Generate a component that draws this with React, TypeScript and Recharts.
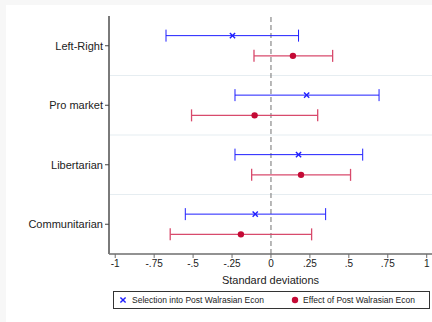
import React from 'react';
import {
  ScatterChart,
  Scatter,
  XAxis,
  YAxis,
  ErrorBar,
  ReferenceLine,
} from 'recharts';

const categories = ['Left-Right', 'Pro market', 'Libertarian', 'Communitarian'];

// Selection into Post Walrasian Econ
const selEst = [-0.247, 0.229, 0.177, -0.101];
const selLo = [-0.674, -0.231, -0.231, -0.55];
const selHi = [0.177, 0.694, 0.589, 0.351];

// Effect of Post Walrasian Econ
const effEst = [0.141, -0.105, 0.193, -0.193];
const effLo = [-0.109, -0.51, -0.124, -0.647];
const effHi = [0.396, 0.3, 0.511, 0.261];

const xTicks = [-1, -0.75, -0.5, -0.25, 0, 0.25, 0.5, 0.75, 1];

const SEL_NAME = 'Selection into Post Walrasian Econ';
const EFF_NAME = 'Effect of Post Walrasian Econ';

const BLUE = '#1f1fff';
const RED_DOT = '#c40a35';
const RED_LINE = '#d84a6c';

// vertical dodge of the two series inside each category band
const DODGE = 0.17;

const selData = categories.map((c, i) => ({
  cat: c,
  y: i + 0.5 - DODGE,
  x: selEst[i],
  err: [selEst[i] - selLo[i], selHi[i] - selEst[i]],
}));

const effData = categories.map((c, i) => ({
  cat: c,
  y: i + 0.5 + DODGE,
  x: effEst[i],
  err: [effEst[i] - effLo[i], effHi[i] - effEst[i]],
}));

const fmtX = (v: number) => {
  if (v === 0) return '0';
  const s = String(Math.abs(v)).replace(/^0/, '');
  return v < 0 ? '-' + s : s;
};

const XMark = (props: any) => {
  const { cx, cy } = props;
  const r = 2.6;
  return (
    <g stroke={BLUE} strokeWidth={1.4}>
      <line x1={cx - r} y1={cy - r} x2={cx + r} y2={cy + r} />
      <line x1={cx - r} y1={cy + r} x2={cx + r} y2={cy - r} />
    </g>
  );
};

const DotMark = (props: any) => {
  const { cx, cy } = props;
  return <circle cx={cx} cy={cy} r={3.2} fill={RED_DOT} />;
};

export default function App() {
  return (
    <div
      style={{
        position: 'absolute',
        left: 0,
        top: 0,
        width: 432,
        height: 322,
        background: '#f7f7f7',
        fontFamily: '"Liberation Sans", Arial, sans-serif',
        overflow: 'hidden',
      }}
    >
      <div
        style={{
          position: 'absolute',
          left: 6,
          top: 5,
          width: 426,
          height: 317,
          background: '#ffffff',
        }}
      />
      <div style={{ position: 'absolute', left: 0, top: 0 }}>
        <ScatterChart
          width={432}
          height={322}
          margin={{ top: 16, right: 0, bottom: 38, left: 0 }}
        >
          <XAxis
            type="number"
            dataKey="x"
            domain={[-1.04, 1.034]}
            allowDataOverflow
            ticks={xTicks}
            tickFormatter={fmtX}
            interval={0}
            height={30}
            tickSize={4}
            axisLine={{ stroke: '#6e6e6e', strokeWidth: 1.5 }}
            tickLine={{ stroke: '#6e6e6e' }}
            tick={{ fill: '#222', fontSize: 10 }}
            label={{
              value: 'Standard deviations',
              position: 'insideBottom',
              offset: 0,
              fill: '#222',
              fontSize: 11,
            }}
          />
          <YAxis
            type="number"
            dataKey="y"
            domain={[0, 4]}
            reversed
            ticks={[0.5, 1.5, 2.5, 3.5]}
            tickFormatter={(v: number) => categories[Math.floor(v)]}
            interval={0}
            width={109}
            tickSize={4}
            axisLine={{ stroke: '#7a7a7a', strokeWidth: 2 }}
            tickLine={{ stroke: '#444' }}
            tick={{ fill: '#222', fontSize: 11 }}
          />
          {[1, 2, 3].map((b) => (
            <ReferenceLine key={b} y={b} stroke="#e6edf1" strokeWidth={1.2} />
          ))}
          <ReferenceLine x={0} stroke="#8a8a8a" strokeWidth={1.2} strokeDasharray="5 3" />
          <Scatter
            name={SEL_NAME}
            data={selData}
            shape={<XMark />}
            isAnimationActive={false}
          >
            <ErrorBar dataKey="err" direction="x" width={6} stroke={BLUE} strokeWidth={1} />
          </Scatter>
          <Scatter
            name={EFF_NAME}
            data={effData}
            shape={<DotMark />}
            isAnimationActive={false}
          >
            <ErrorBar dataKey="err" direction="x" width={6} stroke={RED_LINE} strokeWidth={1.3} />
          </Scatter>
        </ScatterChart>
      </div>
      <div
        style={{
          position: 'absolute',
          left: 113,
          top: 291,
          width: 317,
          height: 18,
          boxSizing: 'border-box',
          border: '1px solid #333',
          background: '#fff',
          fontSize: 8.5,
          color: '#222',
        }}
      >
        <svg
          width={10}
          height={10}
          style={{ position: 'absolute', left: 4, top: 3 }}
        >
          <g stroke={BLUE} strokeWidth={1.4}>
            <line x1={2.4} y1={2.4} x2={7.6} y2={7.6} />
            <line x1={2.4} y1={7.6} x2={7.6} y2={2.4} />
          </g>
        </svg>
        <span style={{ position: 'absolute', left: 18, top: 2.5, whiteSpace: 'nowrap' }}>
          {SEL_NAME}
        </span>
        <svg
          width={10}
          height={10}
          style={{ position: 'absolute', left: 175.5, top: 3 }}
        >
          <circle cx={5} cy={5} r={3.2} fill={RED_DOT} />
        </svg>
        <span style={{ position: 'absolute', left: 189, top: 2.5, whiteSpace: 'nowrap' }}>
          {EFF_NAME}
        </span>
      </div>
    </div>
  );
}
